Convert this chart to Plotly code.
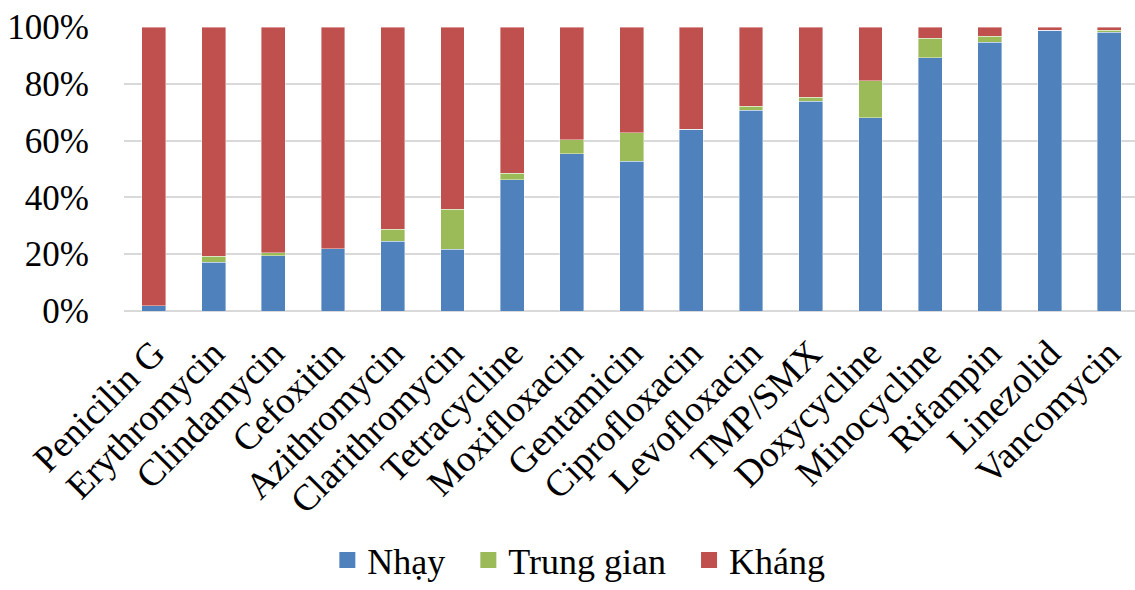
import plotly.graph_objects as go

# Antibiotic susceptibility, percent of isolates
antibiotics = [
    "Penicilin G", "Erythromycin", "Clindamycin", "Cefoxitin", "Azithromycin",
    "Clarithromycin", "Tetracycline", "Moxifloxacin", "Gentamicin", "Ciprofloxacin",
    "Levofloxacin", "TMP/SMX", "Doxycycline", "Minocycline", "Rifampin",
    "Linezolid", "Vancomycin",
]
nhay = [1.9, 17.1, 19.4, 21.9, 24.6, 21.8, 46.2, 55.4, 52.8, 64.0,
        70.7, 73.9, 68.0, 89.1, 94.7, 98.8, 98.1]
trung_gian = [0.0, 2.1, 1.1, 0.0, 4.2, 14.1, 2.3, 4.9, 10.0, 0.0,
              1.4, 1.3, 13.0, 7.0, 2.1, 0.0, 0.7]
khang = [round(100 - a - b, 1) for a, b in zip(nhay, trung_gian)]

series = [
    ("Nhạy", nhay, "#4F81BD"),
    ("Trung gian", trung_gian, "#9BBB59"),
    ("Kháng", khang, "#C0504D"),
]

FONT = "Liberation Serif, Times New Roman, serif"
KEY_PAD = "\u2002"  # extra room after each legend entry

fig = go.Figure()
for i, (name, vals, color) in enumerate(series):
    fig.add_trace(go.Bar(
        x=antibiotics, y=vals, name=name, legendgroup=name, showlegend=False,
        marker=dict(color=color, line=dict(color="rgba(255,255,255,0.5)", width=0.8)),
    ))
    # legend key: a larger square swatch than the default bar symbol
    label = name + (KEY_PAD if i < len(series) - 1 else "")
    fig.add_trace(go.Scatter(
        x=[None], y=[None], mode="markers", name=label, legendgroup=name,
        marker=dict(symbol="square", size=19, color=color),
    ))

fig.update_layout(
    barmode="stack",
    bargap=0.6,
    width=1135, height=590,
    margin=dict(l=124, r=0, t=27, b=279),
    paper_bgcolor="white", plot_bgcolor="white",
    font=dict(family=FONT, size=35, color="black"),
    showlegend=True,
    legend=dict(
        orientation="h", xref="container", yref="container",
        x=0.510, y=-0.012, xanchor="center", yanchor="bottom",
        font=dict(size=36), traceorder="normal", borderwidth=0,
    ),
)
fig.update_xaxes(
    tickangle=-45, range=[-0.5, 16.43], showgrid=False,
    showline=False, ticks="", tickfont=dict(size=37),
    ticklabelstandoff=12,
)
fig.update_yaxes(
    range=[0, 100], dtick=20, ticksuffix="%",
    showgrid=True, gridcolor="#D9D9D9", gridwidth=1.5,
    zeroline=True, zerolinecolor="#D9D9D9", zerolinewidth=1.5,
    ticks="", ticklabelstandoff=34, tickfont=dict(size=35),
)

fig.write_html("out.html")
